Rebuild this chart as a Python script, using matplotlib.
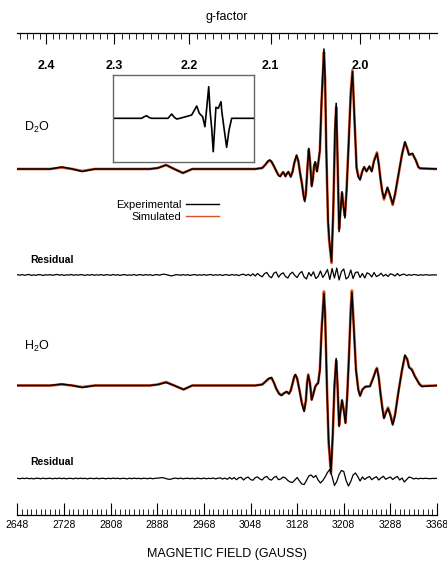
import numpy as np
import matplotlib
matplotlib.use('Agg')
import matplotlib.pyplot as plt
from matplotlib.ticker import MultipleLocator, FormatStrFormatter
from matplotlib.lines import Line2D

plt.rcParams['font.family'] = ['Liberation Sans', 'DejaVu Sans']
plt.rcParams['mathtext.fontset'] = 'custom'
plt.rcParams['mathtext.rm'] = 'Liberation Sans'
plt.rcParams['mathtext.default'] = 'regular'

# microwave frequency (GHz), used for the g-factor scale on top
freq_ghz = 9.06
G_CONST = 714.48 * freq_ghz

# D2O spectrum (field in gauss, intensity in arbitrary units)
d2o_field = [2648, 2704, 2724, 2742, 2759, 2781, 2875, 2889, 2903, 2917,
             2932, 2948, 3056, 3068, 3073, 3078, 3081, 3084, 3088, 3093,
             3096, 3099, 3102, 3104, 3106, 3108, 3110, 3113, 3115, 3117,
             3120, 3123, 3127, 3130, 3133, 3136, 3139, 3141, 3143, 3146,
             3148, 3150, 3153, 3155, 3157, 3159, 3161, 3162, 3164, 3167,
             3170, 3174, 3176, 3178, 3181, 3183, 3187, 3190, 3193, 3195,
             3197, 3200, 3202, 3205, 3207, 3210, 3213, 3216, 3220, 3223,
             3226, 3230, 3233, 3236, 3240, 3243, 3247, 3252, 3256, 3260,
             3265, 3268, 3271, 3274, 3277, 3280, 3283, 3287, 3292, 3296,
             3302, 3308, 3313, 3317, 3320, 3323, 3326, 3332, 3336, 3339,
             3368]
d2o_exp = [0, 0, 2, 0, -2.5, 0, 0, 1, 4, 0,
           -4, 0, 0, 1, 4, 8, 9, 7.5, 3, -3,
           -6.5, -7.7, -4.5, -2.7, -5, -7.7, -5, -2.7, -5.5, -8,
           -3, 6, 14, 8, -4, -14.3, -27, -32.7, -25, 5,
           20.7, 8, -17.7, -10, 3, 7.3, 1, -2.7, 5, 19,
           70, 120, 90, 20, -51, -70, -92.7, -40, 40, 65.7,
           20, -62.7, -45, -22.7, -35, -49, -20, 20, 75, 97.3,
           55, 0.7, -8, -11, -2, 2.3, -2.7, 3, -2.7, 8,
           15.7, 5, -10, -22, -29.3, -24, -18.3, -25, -35, -25,
           -5, 15, 27.3, 20, 14, 15, 15.7, 8, 2, 0.7,
           0]
d2o_sim = [0, 0, 1.5, 0, -2, 0, 0, 1, 4, 0,
           -4, 0, 0, 1, 4, 7.5, 8.5, 7, 3, -3,
           -6, -7, -4.5, -3.5, -5, -7, -5, -3, -5, -7.5,
           -3, 5.5, 13, 8, -4, -13.5, -26, -31, -24, 4,
           19.5, 8, -16.5, -10, 2.5, 6.5, 1, -2, 4.5, 18,
           68, 117, 88, 18, -53, -72, -94, -42, 37, 62,
           18, -60, -44, -24, -35, -47, -19, 21, 77, 99,
           56, 1.5, -7, -10, -2, 1.5, -2, 2, -2, 8.5,
           16.5, 5.5, -9.5, -22.5, -30.5, -25, -19, -26, -36, -26,
           -5.5, 14.5, 26.5, 20.5, 14.5, 14.5, 15, 8.5, 2, 0.5,
           0]

# H2O spectrum
h2o_field = [2648, 2704, 2724, 2742, 2759, 2781, 2875, 2889, 2903, 2917,
             2933, 2948, 3056, 3068, 3073, 3079, 3084, 3088, 3092, 3097,
             3101, 3106, 3110, 3114, 3117, 3120, 3123, 3125, 3128, 3132,
             3136, 3140, 3143, 3145, 3147, 3150, 3153, 3156, 3159, 3162,
             3164, 3167, 3170, 3174, 3176, 3179, 3182, 3186, 3189, 3192,
             3195, 3197, 3200, 3202, 3205, 3208, 3211, 3214, 3217, 3220,
             3222, 3225, 3229, 3233, 3236, 3240, 3245, 3253, 3259, 3263,
             3265, 3268, 3271, 3274, 3277, 3280, 3284, 3288, 3292, 3296,
             3302, 3308, 3313, 3317, 3320, 3325, 3330, 3334, 3338, 3342,
             3368]
h2o_exp = [0, 0, 1.5, 0, -2, 0, 0, 1, 3, 0,
           -4, 0, 0, 1, 3.5, 7, 8, 3, -3, -8.5,
           -10, -7.5, -6, -8.5, -5, 2, 9, 11, 7, -5,
           -18, -26, -15, 2, 10.5, 2, -14.5, -8, -1, 1.5,
           2, 15, 55, 92, 70, 0, -55, -86, -50, 0,
           27, 5, -41, -28, -14.5, -25, -38, -10, 30, 75,
           93, 60, 15, -4.5, -10.5, -4, -1, -1, 8, 15,
           17, 8, -8, -22, -33, -28, -23, -30, -39.5, -30,
           -6, 16, 30.5, 26, 18, 15.5, 9, 5, 1, -1,
           0]
h2o_sim = [0, 0, 1, 0, -1.5, 0, 0, 1, 3.5, 0,
           -4, 0, 0, 1, 3.5, 6.5, 7.5, 3, -3, -8,
           -9.5, -7.5, -6.5, -8, -5, 1.5, 8.5, 10.5, 7, -4.5,
           -17, -25, -15, 2.5, 11, 2.5, -14, -8, -1.5, 1.5,
           2.5, 16, 57, 94, 72, 2, -57, -88, -52, -2,
           25, 4, -40, -28, -15, -24, -37, -9, 31, 77,
           95, 62, 16, -4, -10, -4, -1.5, -0.5, 8.5, 15.5,
           17.5, 8.5, -7.5, -21, -32, -27, -22, -29, -38.5, -29,
           -5.5, 15, 29.5, 26.5, 18.5, 16, 9.5, 5.5, 1.5, -0.5,
           0]

# residuals (experimental - simulated), sampled every 4 G from 2648 G
res_field = np.arange(2648, 3369, 4)
d2o_res = [0.3, -0.2, 0.4, -0.3, 0.2, 0.5, -0.4, 0.1, -0.3, 0.4, 0.2, -0.5, 0.3, -0.1, 0.4, -0.3, 0.2, 0.6, -0.2, 0.3,
           -0.4, 0.2, -0.1, 0.5, -0.3, 0.3, -0.2, 0.4, 0.1, -0.4, 0.3, -0.2, 0.5, -0.3, 0.2, -0.1, 0.4, -0.4, 0.3, 0.1,
           -0.3, 0.5, -0.2, 0.3, -0.4, 0.2, 0.4, -0.3, 0.1, -0.2, 0.5, -0.4, 0.3, 0.2, -0.3, 0.4, -0.1, 0.3, -0.5, 0.2,
           0.4, -0.3, 0.6, 0.8, 0.2, -0.5, -0.9, -0.4, 0.3, 0.2, -0.3, 0.4, -0.2, 0.3, -0.4, 0.1, 0.5, -0.3, 0.2, -0.2,
           0.4, -0.3, 0.2, 0.5, -0.4, 0.3, -0.2, 0.4, -0.5, 0.3, 0.2, -0.4, 0.5, -0.2, 0.3, -0.6, 0.4, 0.8, -0.5, 0.6,
           -0.8, 1.2, -1.0, 1.5, -0.5, -1.8, 1.4, 2.5, -1.2, -2.8, 1.8, 3.0, -2.2, 0.8, 2.2, -1.5, -3.0, 1.0, 2.8, -0.5,
           -2.5, 1.5, 3.5, -2.0, -4.0, 2.5, -1.0, 3.2, -3.5, -1.5, 4.0, -2.5, 1.0, 5.5, -4.5, 6.5, -3.0, 7.0, -5.0, 3.5,
           6.0, -4.0, -2.0, 5.0, -3.5, 2.5, 3.0, -2.5, 1.5, -3.0, 2.2, 1.0, -2.0, 2.5, -1.5, -0.5, 1.8, -1.2, 0.6, -1.5,
           1.2, 0.4, -1.0, 1.5, -0.8, 0.5, 0.8, -0.6, 0.4, -0.3, 0.5, 0.2, -0.4, 0.3, -0.2, 0.3, 0.1, -0.2, 0.2, 0.0, 0.1]
h2o_res = [0.2, -0.3, 0.3, -0.1, 0.4, -0.2, 0.1, -0.4, 0.3, 0.2, -0.3, 0.4, -0.2, 0.1, 0.3, -0.3, 0.2, -0.1, 0.4, -0.2,
           0.3, -0.4, 0.2, 0.1, -0.3, 0.4, -0.2, 0.3, -0.1, 0.2, -0.4, 0.3, 0.1, -0.2, 0.4, -0.3, 0.2, 0.1, -0.3, 0.3,
           -0.2, 0.4, -0.1, 0.3, -0.3, 0.2, 0.1, -0.4, 0.3, -0.2, 0.4, -0.1, 0.2, -0.3, 0.3, 0.1, -0.2, 0.4, -0.3, 0.2,
           0.3, 0.6, 0.9, 0.5, -0.3, -0.8, -0.6, 0.2, 0.3, -0.2, 0.4, -0.3, 0.1, 0.3, -0.2, 0.2, -0.4, 0.3, 0.1, -0.2,
           0.4, -0.3, 0.2, -0.1, 0.5, -0.4, 0.3, 0.6, -0.5, 0.4, -0.8, 1.0, -0.6, 0.9, -1.2, 0.8, 1.2, -1.5, 0.6, 1.4,
           -1.0, -1.8, 0.8, 1.6, -0.5, -1.5, 1.2, 2.0, -0.8, -1.6, 1.0, 2.2, -1.2, -0.4, 1.5, 0.5, -2.0, -3.5, -4.0, -1.5,
           1.0, -2.5, -5.5, -6.0, -2.0, 2.5, 3.5, 1.0, 3.0, -1.5, -4.5, -2.0, 1.5, 6.0, 9.0, 2.0, -7.0, -3.0, 4.0, 8.0,
           7.0, -2.0, -7.5, -3.0, 3.5, 5.5, 2.0, -2.5, 1.5, -1.0, 0.8, 2.0, -1.2, 0.5, 1.8, -1.5, 0.6, 2.2, -0.8, 0.5,
           1.5, -1.0, 0.8, 2.0, -1.5, 0.5, -3.5, -1.0, 1.5, 0.8, -0.5, 0.3, -0.4, 0.2, -0.1, 0.2, 0.0, -0.2, 0.1, 0.0, 0.1]

# inset: simulated component spectrum
inset_field = [2500, 2704, 2720, 2739, 2756, 2774, 2890, 2916, 2935, 2952,
               2975, 3058, 3094, 3112, 3136, 3152, 3169, 3179, 3188, 3200,
               3211, 3230, 3247, 3266, 3272, 3294, 3306, 3323, 3342, 3500]
inset_sim = [0, 0, 1.5, 2.6, 0.8, 0, 0, 4.3, 1, -0.7,
             0, 3.3, 12.3, 5, 1.6, -8.4, 16.6, 31.6, 8.3, -10,
             -33.4, 11, 10, 16.6, 6.6, -16.7, -29, -11.7, 0, 0]

# vertical offsets of the stacked traces
off_d2o, off_d2o_res = 346, 240
off_h2o, off_h2o_res = 129.5, 36.5

red = '#d9502a'

fig = plt.figure(figsize=(4.47, 5.61), dpi=100)
ax = fig.add_axes([0.0391, 0.082, 0.9385, 0.8592])

ax.plot(d2o_field, np.array(d2o_sim) + off_d2o, color=red, lw=1.9)
ax.plot(d2o_field, np.array(d2o_exp) + off_d2o, color='black', lw=1.1)
ax.plot(res_field, np.array(d2o_res) + off_d2o_res, color='black', lw=0.9)
ax.plot(h2o_field, np.array(h2o_sim) + off_h2o, color=red, lw=1.9)
ax.plot(h2o_field, np.array(h2o_exp) + off_h2o, color='black', lw=1.1)
ax.plot(res_field, np.array(h2o_res) + off_h2o_res, color='black', lw=0.9)

ax.set_xlim(2648, 3368)
ax.set_ylim(0, 482)
for s in ['top', 'left', 'right']:
    ax.spines[s].set_visible(False)
ax.spines['bottom'].set_linewidth(0.9)
ax.set_yticks([])
ax.set_xticks(np.arange(2648, 3369, 80))
ax.xaxis.set_minor_locator(MultipleLocator(8))
ax.tick_params(axis='x', which='major', direction='in', length=8.5, width=0.8, labelsize=7.5, pad=3.5)
ax.tick_params(axis='x', which='minor', direction='in', length=4, width=0.6)
ax.set_xlabel('MAGNETIC FIELD (GAUSS)', fontsize=9, labelpad=13)

# g-factor scale
def field_to_g(b):
    with np.errstate(divide='ignore'):
        return G_CONST / np.asarray(b, dtype=float)

gax = ax.secondary_xaxis('top', functions=(field_to_g, field_to_g))
gax.set_xticks([2.0, 2.1, 2.2, 2.3, 2.4])
gax.xaxis.set_minor_locator(MultipleLocator(0.01))
gax.xaxis.set_major_formatter(FormatStrFormatter('%.1f'))
gax.tick_params(which='major', direction='in', length=8, width=0.8, labelsize=9, pad=-28)
gax.tick_params(which='minor', direction='in', length=4, width=0.6)
for lab in gax.get_xticklabels():
    lab.set_fontweight('bold')
gax.spines['top'].set_linewidth(0.9)
gax.set_xlabel('g-factor', fontsize=9, labelpad=6)

# trace labels
ax.text(0.015, 0.803, 'D$_2$O', transform=ax.transAxes, fontsize=9, va='center')
ax.text(0.015, 0.35, 'H$_2$O', transform=ax.transAxes, fontsize=9, va='center')
ax.text(0.03, 0.528, 'Residual', transform=ax.transAxes, fontsize=7.5, fontweight='bold', va='center')
ax.text(0.03, 0.11, 'Residual', transform=ax.transAxes, fontsize=7.5, fontweight='bold', va='center')

# legend
handles = [Line2D([], [], color='black', lw=1.0), Line2D([], [], color=red, lw=1.0)]
ax.legend(handles, ['Experimental', 'Simulated'], loc='upper left', bbox_to_anchor=(0.225, 0.662),
          frameon=False, markerfirst=False, handlelength=3.0, handletextpad=0.4,
          labelspacing=0.12, fontsize=8, borderaxespad=0)

# inset
iax = fig.add_axes([0.2528, 0.7112, 0.3154, 0.1551])
iax.plot(inset_field, inset_sim, color='black', lw=1.2)
iax.set_xlim(2500, 3500)
iax.set_ylim(-43.7, 43.3)
iax.set_xticks([])
iax.set_yticks([])
for s in iax.spines.values():
    s.set_color('#666666')
    s.set_linewidth(1.0)

fig.savefig('out.png', dpi=100)
